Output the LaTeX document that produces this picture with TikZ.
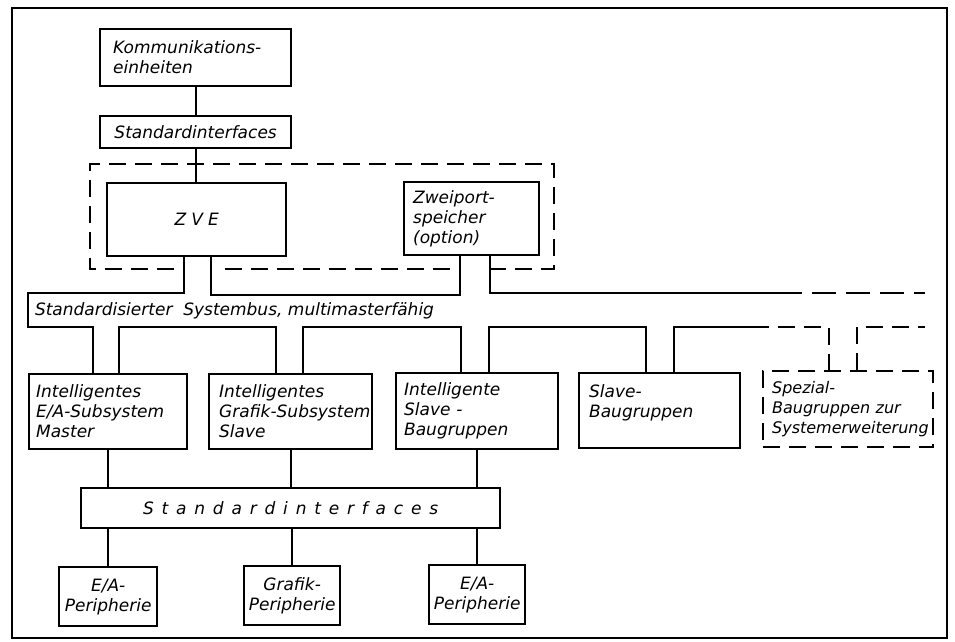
\documentclass[tikz,border=0pt]{standalone}
\usepackage{fontspec}
\setmainfont{DejaVu Sans}
\newcommand{\lettering}{\itshape\fontsize{17}{20}\selectfont}
\newcommand{\smlettering}{\itshape\fontsize{16}{20}\selectfont}
\begin{document}
\begin{tikzpicture}[x=1pt,y=-1pt,line width=2pt,
  box/.style={draw, line width=2.3pt, rectangle, anchor=north west, inner xsep=9pt, inner ysep=0pt, align=left, font=\lettering},
  grp/.style={dash pattern=on 17pt off 9pt},
  busext/.style={dash pattern=on 24pt off 10pt},
  conn/.style={line width=2pt}]
\useasboundingbox (0,0) rectangle (955,642);
\draw[line width=2pt] (12,8) rectangle (947,638);

% top part
\node[box, minimum width=191pt, minimum height=57pt, text width=165pt, inner xsep=13pt] (kom) at (99,28) {Kommunikations-\\einheiten};
\node[box, minimum width=191pt, minimum height=32pt, text width=173pt, align=center] (std1) at (99,115) {Standardinterfaces};
\node[box, minimum width=179pt, minimum height=73pt, text width=161pt, align=center] (zve) at (106,182) {\addfontfeatures{LetterSpace=30}ZVE};
\node[box, minimum width=135pt, minimum height=73pt, text width=117pt, inner xsep=9pt] (zw) at (403,181) {Zweiport-\\speicher\\(option)};

% group (dashed)
\coordinate (gNW) at (90,164);
\coordinate (gSE) at (554,269);
\coordinate (gA) at (175,269);
\coordinate (gB) at (225,269);
\coordinate (gC) at (455,269);
\coordinate (gD) at (489,269);
\draw[grp] (gD) -- (gSE) -- (gSE |- gNW) -- (gNW) -- (gNW |- gSE) -- (gA);
\draw[grp] (gB) -- (gC);

\draw[conn] (kom) -- (std1);
\draw[conn] (std1.south) -- (std1.south |- zve.north);

% modules
\node[box, minimum width=158pt, minimum height=75pt, text width=144pt, inner xsep=7pt] (b1) at (28,373) {Intelligentes\\E/A-Subsystem\\Master};
\node[box, minimum width=163pt, minimum height=75pt, text width=143pt, inner xsep=10pt] (b2) at (208,373) {Intelligentes\\\mbox{Grafik-Subsystem}\\Slave};
\node[box, minimum width=162pt, minimum height=76pt, text width=146pt, inner xsep=8pt] (b3) at (395,372) {Intelligente\\Slave -\\Baugruppen};
\node[box, minimum width=161pt, minimum height=75pt, text width=141pt, inner xsep=10pt] (b4) at (578,372) {Slave-\\Baugruppen\\\mbox{}};
\node[box, grp, font=\smlettering, minimum width=170pt, minimum height=76pt, text width=152pt, inner xsep=9pt] (b5) at (762,370) {Spezial-\\Baugruppen zur\\\mbox{Systemerweiterung}};

% system bus
\coordinate (bU) at (28,293);
\coordinate (bL) at (28,327);
\coordinate (sU) at (778,293);
\coordinate (eU) at (925,293);
\coordinate (sL) at (752,327);
\coordinate (eL) at (925,327);
\draw[conn] ([xshift=-12.5pt]zve.south) |- (bU) -- (bL) -| ([xshift=-15pt]b1.north);
\draw[conn] ([xshift=14.5pt]zve.south) -- ++(0,38) -| ([xshift=-11.5pt]zw.south);
\draw[conn] ([xshift=18.5pt]zw.south) |- (sU);
\draw[conn,busext] (sU) -- (eU);
\draw[conn] ([xshift=11pt]b1.north) -- ++(0,-46) -| ([xshift=-14.5pt]b2.north);
\draw[conn] ([xshift=12.5pt]b2.north) -- ++(0,-46) -| ([xshift=-16pt]b3.north);
\draw[conn] ([xshift=12pt]b3.north) -- ++(0,-45) -| ([xshift=-13.5pt]b4.north);
\draw[conn] ([xshift=14.5pt]b4.north) |- (sL);
\draw[conn,grp] (sL) -| ([xshift=-19pt]b5.north);
\draw[conn,grp] ([xshift=9pt]b5.north) |- (eL);
\node[anchor=west, font=\lettering, inner sep=0pt] (bustext) at (34,311) {Standardisierter\ \ Systembus, multimasterfähig};

% lower interfaces and peripherals
\node[box, minimum width=419pt, minimum height=40pt, text width=401pt, align=center] (bstd) at (80,487) {\addfontfeatures{LetterSpace=46}Standardinterfaces};
\node[box, minimum width=98pt, minimum height=59pt, text width=92pt, inner xsep=3pt, align=center] (p1) at (58,566) {E/A-\\Peripherie};
\node[box, minimum width=96pt, minimum height=59pt, text width=90pt, inner xsep=3pt, align=center] (p2) at (243,565) {Grafik-\\Peripherie};
\node[box, minimum width=96pt, minimum height=59pt, text width=90pt, inner xsep=3pt, align=center] (p3) at (428,564) {E/A-\\Peripherie};

\draw[conn] (b1.south) -- (b1.south |- bstd.north);
\draw[conn] (b2.south) -- (b2.south |- bstd.north);
\draw[conn] (b3.south) -- (b3.south |- bstd.north);
\draw[conn] (p1.north |- bstd.south) -- (p1.north);
\draw[conn] (p2.north |- bstd.south) -- (p2.north);
\draw[conn] (p3.north |- bstd.south) -- (p3.north);
\end{tikzpicture}
\end{document}
